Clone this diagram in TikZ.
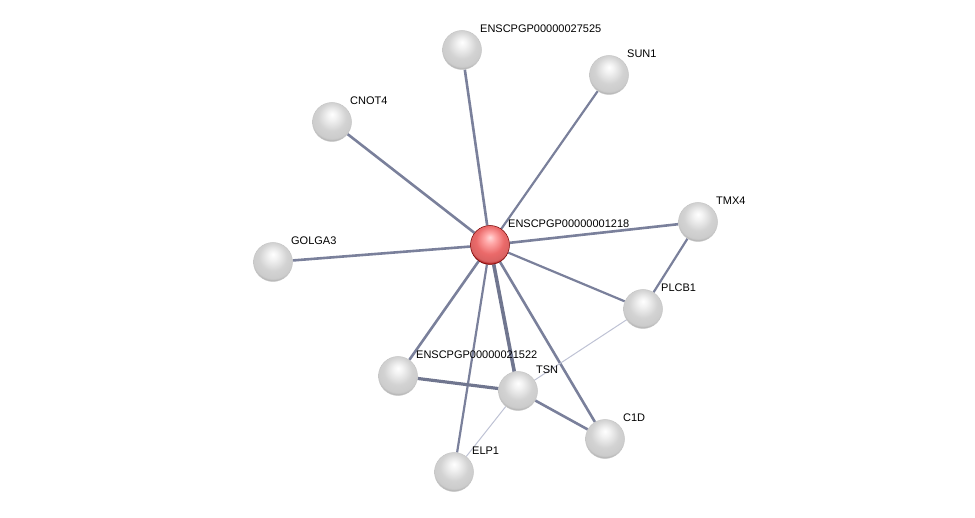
\documentclass[tikz,border=0pt]{standalone}
\usepackage{fontspec}
\setmainfont{Liberation Sans}
\usetikzlibrary{positioning}
\usetikzlibrary{backgrounds}

\definecolor{edgecol}{RGB}{122,128,155}
\definecolor{weakcol}{RGB}{190,194,212}
\pgfdeclareradialshading{greyball}{\pgfpoint{0bp}{10bp}}{color(0bp)=(white); color(6bp)=(gray!10); color(18bp)=(gray!35); color(26bp)=(gray!40); color(29bp)=(gray!65); color(50bp)=(gray!65)}
\pgfdeclareradialshading{redball}{\pgfpoint{0bp}{10bp}}{color(0bp)=(red!15!white); color(7bp)=(red!35!white); color(18bp)=(red!55!white!92!black); color(26bp)=(red!55!white!85!black); color(29bp)=(red!60!black); color(50bp)=(red!60!black)}

\begin{document}
\begin{tikzpicture}[x=1pt,y=-1pt,
    protein/.style={circle,minimum size=39pt,inner sep=0pt,shading=greyball,draw=gray!45,line width=0.5pt},
    query/.style={protein,shading=redball,draw=red!45!black},
    tag/.style={font=\fontsize{11}{13}\selectfont,anchor=base west,inner sep=0pt,xshift=4pt,yshift=4pt,draw=none},
    link/.style={draw=edgecol,line width=2.6pt},
    strong/.style={draw=edgecol!92!black,line width=3.6pt},
    weak/.style={draw=weakcol,line width=1pt}]
    \useasboundingbox (0,0) rectangle (975,518);

    % Place nodes
    \node [query,label={[tag]north east:ENSCPGP00000001218}] (center) at (490,245) {};
    \node [protein,label={[tag]north east:ENSCPGP00000027525}] (p27525) at (462,50) {};
    \node [protein,label={[tag]north east:SUN1}] (sun1) at (609,75) {};
    \node [protein,label={[tag]north east:CNOT4}] (cnot4) at (332,122) {};
    \node [protein,label={[tag]north east:TMX4}] (tmx4) at (698,222) {};
    \node [protein,label={[tag]north east:GOLGA3}] (golga3) at (273,262) {};
    \node [protein,label={[tag]north east:PLCB1}] (plcb1) at (643,309) {};
    \node [protein,label={[tag]north east:ENSCPGP00000021522}] (p21522) at (398,376) {};
    \node [protein,label={[tag]north east:TSN}] (tsn) at (518,391) {};
    \node [protein,label={[tag]north east:C1D}] (c1d) at (605,439) {};
    \node [protein,label={[tag]north east:ELP1}] (elp1) at (454,472) {};

    % Edges
    \begin{scope}[on background layer]
        \draw [link] (center) -- (p27525);
        \draw [link,line width=2.2pt] (center) -- (sun1);
        \draw [link] (center) -- (cnot4);
        \draw [link] (center) -- (golga3);
        \draw [link] (center) -- (tmx4);
        \draw [link,line width=2.2pt] (center) -- (plcb1);
        \draw [link] (center) -- (p21522);
        \draw [strong] (center) -- (tsn);
        \draw [link] (center) -- (c1d);
        \draw [link,line width=2.2pt] (center) -- (elp1);
        \draw [link,line width=2.2pt] (tmx4) -- (plcb1);
        \draw [strong,line width=3.2pt] (p21522) -- (tsn);
        \draw [link] (tsn) -- (c1d);
        \draw [weak] (plcb1) -- (tsn);
        \draw [weak] (tsn) -- (elp1);
    \end{scope}
\end{tikzpicture}
\end{document}
